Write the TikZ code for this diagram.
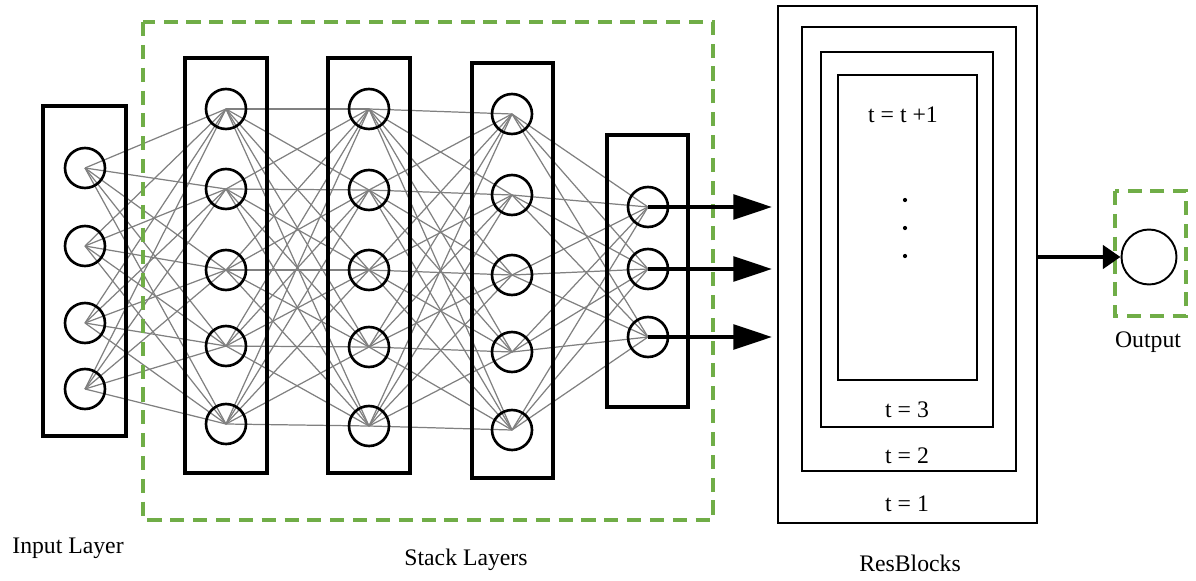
\documentclass[tikz,border=0pt]{standalone}
\usepackage{fontspec}
\setmainfont{Liberation Serif}
\usetikzlibrary{arrows.meta}
\definecolor{dashgreen}{RGB}{112,173,71}
\pgfdeclarelayer{background}
\pgfsetlayers{background,main}

\begin{document}
\begin{tikzpicture}[x=0.02cm, y=-0.02cm,
    neuron/.style={circle, draw, line width=1.5pt, minimum size=0.8cm, inner sep=0pt},
    link/.style={black!50, line width=0.7pt},
    frame/.style={line width=2.4pt},
    resframe/.style={line width=1.2pt},
    group/.style={dashgreen, line width=1.8pt, dash pattern=on 8pt off 5pt},
    feed/.style={line width=2.3pt, -{Triangle[length=22pt,width=14pt]}},
    label/.style={font=\fontsize{13.5}{15}\selectfont}]
    \useasboundingbox (0,0) rectangle (1196,581);
    % layer frames
    \draw[frame] (43,106) rectangle (126,436);
    \draw[frame] (185,58) rectangle (267,473);
    \draw[frame] (328,58) rectangle (410,473);
    \draw[frame] (472,63) rectangle (553,478);
    \draw[frame] (607,135) rectangle (688,407);
    \draw[group] (143,22) rectangle (713,520);
    % neurons
    \foreach \y [count=\i] in {168,246,323,389} \node[neuron] (in-\i) at (85,\y) {};
    \foreach \y [count=\i] in {109,189,270,346,424} \node[neuron] (ha-\i) at (226,\y) {};
    \foreach \y [count=\i] in {109,190,270,347,426} \node[neuron] (hb-\i) at (369,\y) {};
    \foreach \y [count=\i] in {114,195,275,352,430} \node[neuron] (hc-\i) at (512,\y) {};
    \foreach \y [count=\i] in {207,269,337} \node[neuron] (out-\i) at (648,\y) {};
    % dense links behind everything
    \begin{pgfonlayer}{background}
        \foreach \a in {1,...,4} \foreach \b in {1,...,5} \draw[link] (in-\a.center) -- (ha-\b.center);
        \foreach \a in {1,...,5} \foreach \b in {1,...,5} \draw[link] (ha-\a.center) -- (hb-\b.center);
        \foreach \a in {1,...,5} \foreach \b in {1,...,5} \draw[link] (hb-\a.center) -- (hc-\b.center);
        \foreach \a in {1,...,5} \foreach \b in {1,...,3} \draw[link] (hc-\a.center) -- (out-\b.center);
    \end{pgfonlayer}
    \foreach \y [count=\i] in {207,269,337} {
        \coordinate (tip-\i) at (772,\y);
        \draw[feed] (out-\i.center) -- (tip-\i);
    }
    % nested residual blocks
    \draw[resframe] (778,6) rectangle (1037,523);
    \draw[resframe] (802,27) rectangle (1016,471);
    \draw[resframe] (821,52) rectangle (993,427);
    \draw[resframe] (838,75) rectangle (977,380);
    \node[label] (tnext) at (903,115) {t = t +1};
    \foreach \y in {200,228,256} \fill (905,\y) circle (1.2pt);
    \node[label] (tthree) at (907,410) {t = 3};
    \node[label] (ttwo) at (907,456) {t = 2};
    \node[label] (tone) at (907,504) {t = 1};
    % output
    \node[circle, draw, line width=1.1pt, minimum size=1.1cm] (y) at (1149,257) {};
    \draw[group] (1115,191) rectangle (1186,316);
    \coordinate (resout) at (1037,257);
    \draw[line width=2.8pt, -{Triangle[length=10pt,width=13pt]}] (resout) -- (y.west);
    \node[label] (outlabel) at (1148,342) {Output};
    \node[label] (inlabel) at (68,548) {Input Layer};
    \node[label] (stacklabel) at (466,560) {Stack Layers};
    \node[label] (reslabel) at (910,563) {ResBlocks};
\end{tikzpicture}
\end{document}
